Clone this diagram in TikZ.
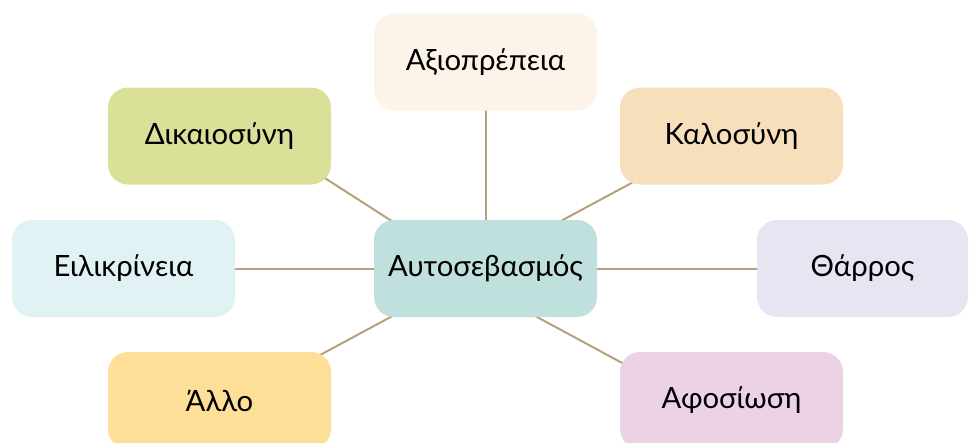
\documentclass[tikz,border=0pt]{standalone}
\usepackage{fontspec}
\setmainfont{Lato}
\begin{document}
\begin{tikzpicture}[x=1pt,y=-1pt,
  box/.style={rounded corners=20pt, minimum width=223pt, minimum height=97pt, inner sep=0pt, font=\fontsize{29.3}{35}\selectfont, text=black},
  link/.style={draw=linkc, line width=2pt}]
\definecolor{linkc}{HTML}{B5A27A}
\definecolor{cC}{HTML}{BFE0DC}
\definecolor{cA}{HTML}{FDF4E9}
\definecolor{cD}{HTML}{DAE098}
\definecolor{cK}{HTML}{F7DFBB}
\definecolor{cE}{HTML}{E0F2F4}
\definecolor{cT}{HTML}{E8E4F2}
\definecolor{cL}{HTML}{FEDF97}
\definecolor{cF}{HTML}{EBD3E5}
\useasboundingbox (0,0) rectangle (969,442);
\clip (0,0) rectangle (969,442);
% connector end points (hidden under the boxes)
\coordinate (a1) at (485.5,240);  \coordinate (a2) at (485.5,80);
\coordinate (d1) at (420,239.2);  \coordinate (d2) at (300,162.1);
\coordinate (k1) at (540,232.2);  \coordinate (k2) at (660,167.7);
\coordinate (e1) at (400,268.5);  \coordinate (e2) at (200,268.5);
\coordinate (t1) at (570,268.5);  \coordinate (t2) at (800,268.5);
\coordinate (l1) at (420,301.2);  \coordinate (l2) at (300,365.8);
\coordinate (f1) at (520,307.8);  \coordinate (f2) at (660,383.4);
\draw[link] (a1) -- (a2);
\draw[link] (d1) -- (d2);
\draw[link] (k1) -- (k2);
\draw[link] (e1) -- (e2);
\draw[link] (t1) -- (t2);
\draw[link] (l1) -- (l2);
\draw[link] (f1) -- (f2);
\node[box, fill=cC] (c) at (485.5,268.5) {Αυτοσεβασμός};
\node[box, fill=cA] (a) at (485.5,62) {Αξιοπρέπεια};
\node[box, fill=cD] (d) at (219.5,136) {Δικαιοσύνη};
\node[box, fill=cK] (k) at (731.5,136) {Καλοσύνη};
\node[box, fill=cE] (e) at (123.5,268.5) {Ειλικρίνεια};
\node[box, fill=cT, minimum width=211pt] (t) at (862.5,268.5) {Θάρρος};
\node[box, fill=cL] (l) at (219.5,400.5) {Άλλο};
\node[box, fill=cF] (f) at (731.5,400.5) {Αφοσίωση};
\end{tikzpicture}
\end{document}
